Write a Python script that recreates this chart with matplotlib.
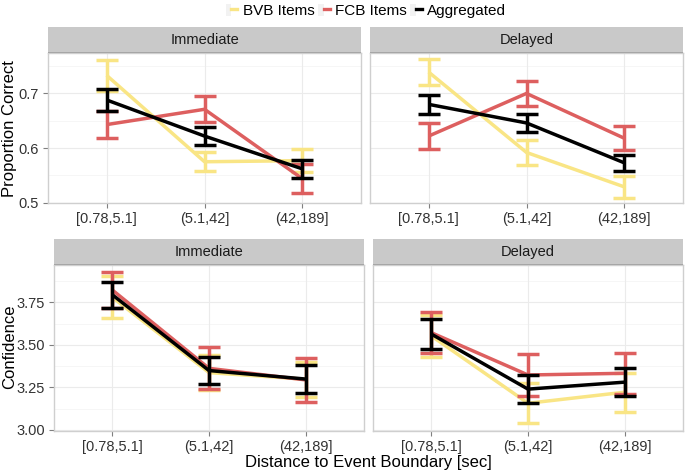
import matplotlib
matplotlib.use("Agg")
import matplotlib.pyplot as plt
from matplotlib.lines import Line2D
from matplotlib.patches import Patch
from matplotlib.legend_handler import HandlerTuple

plt.rcParams['font.family'] = ['Liberation Sans', 'DejaVu Sans']

categories = ["[0.78,5.1]", "(5.1,42]", "(42,189]"]
series = ["BVB Items", "FCB Items", "Aggregated"]
colors = {"BVB Items": "#F9E585", "FCB Items": "#DD5F5F", "Aggregated": "#000000"}

# Proportion correct - Immediate
pc_imm_mean = {"BVB Items": [0.733, 0.575, 0.577],
               "FCB Items": [0.643, 0.671, 0.544],
               "Aggregated": [0.688, 0.622, 0.562]}
pc_imm_err = {"BVB Items": [0.028, 0.017, 0.021],
              "FCB Items": [0.025, 0.024, 0.027],
              "Aggregated": [0.020, 0.016, 0.016]}
# Proportion correct - Delayed
pc_del_mean = {"BVB Items": [0.739, 0.592, 0.529],
               "FCB Items": [0.622, 0.700, 0.618],
               "Aggregated": [0.680, 0.646, 0.573]}
pc_del_err = {"BVB Items": [0.024, 0.023, 0.020],
              "FCB Items": [0.023, 0.023, 0.022],
              "Aggregated": [0.018, 0.016, 0.015]}
# Confidence - Immediate
cf_imm_mean = {"BVB Items": [3.78, 3.337, 3.298],
               "FCB Items": [3.823, 3.362, 3.294],
               "Aggregated": [3.795, 3.349, 3.299]}
cf_imm_err = {"BVB Items": [0.124, 0.102, 0.103],
              "FCB Items": [0.104, 0.124, 0.128],
              "Aggregated": [0.076, 0.079, 0.080]}
# Confidence - Delayed
cf_del_mean = {"BVB Items": [3.553, 3.157, 3.222],
               "FCB Items": [3.572, 3.323, 3.333],
               "Aggregated": [3.564, 3.240, 3.281]}
cf_del_err = {"BVB Items": [0.122, 0.118, 0.115],
              "FCB Items": [0.122, 0.122, 0.121],
              "Aggregated": [0.086, 0.083, 0.081]}

panels = [
    ("Immediate", pc_imm_mean, pc_imm_err, (48, 361, 53, 203), (0.4995, 0.774), [0.5, 0.6, 0.7], ["0.5", "0.6", "0.7"], [0.55, 0.65, 0.75], True),
    ("Delayed", pc_del_mean, pc_del_err, (370, 683, 53, 203), (0.4995, 0.774), [0.5, 0.6, 0.7], None, [0.55, 0.65, 0.75], False),
    ("Immediate", cf_imm_mean, cf_imm_err, (54, 364, 265, 431), (2.994, 3.969), [3.0, 3.25, 3.5, 3.75], ["3.00", "3.25", "3.50", "3.75"], [3.125, 3.375, 3.625, 3.875], True),
    ("Delayed", cf_del_mean, cf_del_err, (373, 683, 265, 431), (2.994, 3.969), [3.0, 3.25, 3.5, 3.75], None, [3.125, 3.375, 3.625, 3.875], False),
]

W, H = 685, 472
fig = plt.figure(figsize=(W / 100, H / 100), dpi=100)

def frac(x0, x1, y0, y1):
    return [x0 / W, 1 - y1 / H, (x1 - x0) / W, (y1 - y0) / H]

LW = 2.5
x = [1, 2, 3]
for title, means, errs, (x0, x1, y0, y1), ylim, yt, ytl, yminor, showy in panels:
    ax = fig.add_axes(frac(x0, x1, y0, y1))
    ax.set_xlim(0.4, 3.6)
    ax.set_ylim(*ylim)
    for yv in yt:
        ax.axhline(yv, color="#EBEBEB", lw=0.8, zorder=0)
    for yv in yminor:
        ax.axhline(yv, color="#F5F5F5", lw=0.6, zorder=0)
    for xv in x:
        ax.axvline(xv, color="#EBEBEB", lw=0.8, zorder=0)
    for i, s in enumerate(series):
        c = colors[s]
        ax.plot(x, means[s], color=c, lw=LW, zorder=2 + i, solid_capstyle="butt")
        ax.errorbar(x, means[s], yerr=errs[s], fmt="none", ecolor=c, elinewidth=LW,
                    capsize=8, capthick=LW, zorder=2 + i)
    ax.set_xticks(x)
    ax.set_xticklabels(categories, fontsize=10.5, color="#333333")
    ax.set_yticks(yt)
    if showy:
        ax.set_yticklabels(ytl, fontsize=10.5, color="#333333")
    else:
        ax.set_yticklabels([])
    ax.tick_params(length=3.5, color="#7F7F7F", width=0.8,
                   left=showy, pad=3)
    for sp in ax.spines.values():
        sp.set_color("#CFCFCF")
        sp.set_linewidth(1.0)
    # strip
    sax = fig.add_axes(frac(x0, x1, y0 - 26, y0))
    sax.set_facecolor("#C9C9C9")
    sax.set_xticks([])
    sax.set_yticks([])
    for k, sp in sax.spines.items():
        sp.set_visible(False)
    sax.axhline(0, color="#A0A0A0", lw=1.2)
    sax.set_ylim(0, 1)
    sax.text(0.5, 0.5, title, ha="center", va="center", fontsize=10.5, color="#1A1A1A",
             transform=sax.transAxes)

fig.text(10 / W, 1 - 129 / H, "Proportion Correct", rotation=90, ha="center", va="center", fontsize=12)
fig.text(10 / W, 1 - 347 / H, "Confidence", rotation=90, ha="center", va="center", fontsize=12)
fig.text(368 / W, 1 - 462 / H, "Distance to Event Boundary [sec]", ha="center", va="center", fontsize=12)

handles = [(Patch(facecolor="#F2F2F2", edgecolor="none"), Line2D([0], [0], color=colors[s], lw=2.4))
           for s in series]
fig.legend(handles, series, loc="center", bbox_to_anchor=(366 / W, 1 - 11 / H), ncol=3,
           frameon=False, fontsize=11, handlelength=0.75, handleheight=0.9,
           handletextpad=0.35, columnspacing=0.25, borderpad=0,
           handler_map={tuple: HandlerTuple(ndivide=None, pad=0)})

fig.savefig("out.png", dpi=100)
